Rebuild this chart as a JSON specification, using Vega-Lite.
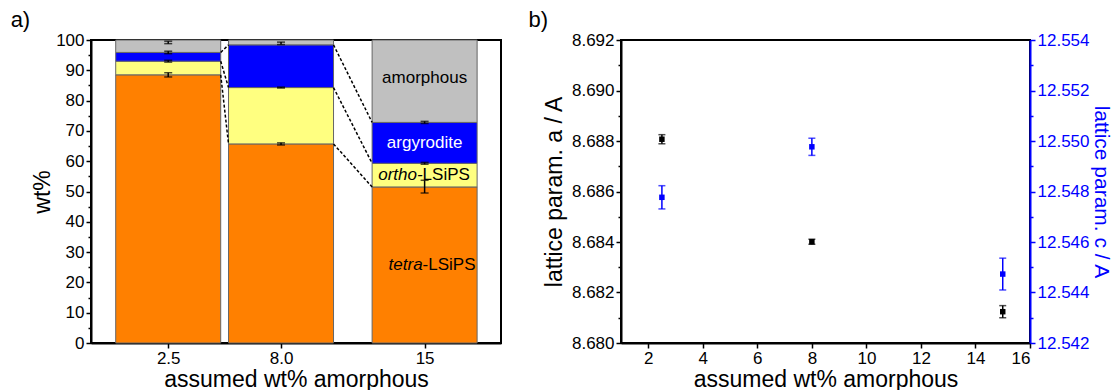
{
  "$schema": "https://vega.github.io/schema/vega-lite/v6.json",
  "background": "white",
  "padding": {"left": 9, "top": 8, "right": 0, "bottom": 0},
  "spacing": 25,
  "config": {
    "font": "Liberation Sans",
    "view": {"stroke": "black", "strokeWidth": 2},
    "axis": {
      "grid": false,
      "domainColor": "black",
      "domainWidth": 2,
      "tickColor": "black",
      "tickWidth": 1.5,
      "tickSize": 5,
      "labelFontSize": 17,
      "labelColor": "black",
      "labelPadding": 2,
      "titleFontSize": 23,
      "titleFontWeight": "normal",
      "titleColor": "black"
    },
    "title": {"fontSize": 22, "fontWeight": "normal", "anchor": "start", "frame": "bounds", "color": "black", "offset": -1}
  },
  "datasets": {
    "bars": [
      {"amorph": 2.5, "phase": "tetra-LSiPS", "wt": 88.5},
      {"amorph": 2.5, "phase": "ortho-LSiPS", "wt": 4.5},
      {"amorph": 2.5, "phase": "argyrodite", "wt": 2.9},
      {"amorph": 2.5, "phase": "amorphous", "wt": 4.1},
      {"amorph": 8.0, "phase": "tetra-LSiPS", "wt": 65.7},
      {"amorph": 8.0, "phase": "ortho-LSiPS", "wt": 18.6},
      {"amorph": 8.0, "phase": "argyrodite", "wt": 14.1},
      {"amorph": 8.0, "phase": "amorphous", "wt": 1.6},
      {"amorph": 15, "phase": "tetra-LSiPS", "wt": 51.5},
      {"amorph": 15, "phase": "ortho-LSiPS", "wt": 7.8},
      {"amorph": 15, "phase": "argyrodite", "wt": 13.5},
      {"amorph": 15, "phase": "amorphous", "wt": 27.2}
    ],
    "errs": [
      {"amorph": 2.5, "wt": 88.5, "err": 0.7},
      {"amorph": 2.5, "wt": 93.0, "err": 0.3},
      {"amorph": 2.5, "wt": 95.9, "err": 0.4},
      {"amorph": 2.5, "wt": 99.2, "err": 0.4},
      {"amorph": 8.0, "wt": 65.7, "err": 0.35},
      {"amorph": 8.0, "wt": 84.3, "err": 0.15},
      {"amorph": 8.0, "wt": 98.9, "err": 0.4},
      {"amorph": 15, "wt": 51.6, "err": 2.1},
      {"amorph": 15, "wt": 59.3, "err": 0.3},
      {"amorph": 15, "wt": 72.8, "err": 0.35}
    ],
    "links": [
      {"amorph": 2.5, "to": 8.0, "wt": 88.5, "wt2": 65.7},
      {"amorph": 2.5, "to": 8.0, "wt": 93.0, "wt2": 84.3},
      {"amorph": 2.5, "to": 8.0, "wt": 95.9, "wt2": 98.4},
      {"amorph": 8.0, "to": 15, "wt": 65.7, "wt2": 51.5},
      {"amorph": 8.0, "to": 15, "wt": 84.3, "wt2": 59.3},
      {"amorph": 8.0, "to": 15, "wt": 98.4, "wt2": 72.8}
    ],
    "labels": [
      {"amorph": 15, "wt": 87.5, "label": "amorphous"},
      {"amorph": 15, "wt": 66, "label": "argyrodite"},
      {"amorph": 15, "wt": 55.4, "label": "ortho-"},
      {"amorph": 15, "wt": 55.4, "label": "LSiPS"},
      {"amorph": 15, "wt": 25.7, "label": "tetra"},
      {"amorph": 15, "wt": 25.7, "label": "-LSiPS"}
    ],
    "lattice": [
      {"amorph": 2.5, "a": 8.68807, "a_err": 0.00018, "c": 12.54777, "c_err": 0.00046},
      {"amorph": 8.0, "a": 8.68401, "a_err": 0.0001, "c": 12.54977, "c_err": 0.00034},
      {"amorph": 15, "a": 8.68124, "a_err": 0.00024, "c": 12.54473, "c_err": 0.00063}
    ]
  },
  "hconcat": [
    {
      "title": {"text": "a)", "dx": -21},
      "width": 410,
      "height": 303,
      "encoding": {
        "x": {
          "field": "amorph", "type": "quantitative",
          "scale": {"domain": [-1.02, 18.48], "nice": false, "zero": false},
          "axis": {
            "values": [2.5, 8, 15],
            "labelExpr": "datum.value == 15 ? '15' : format(datum.value, '.1f')",
            "title": "assumed wt% amorphous",
            "titlePadding": 2
          }
        },
        "y": {
          "field": "wt", "type": "quantitative",
          "scale": {"domain": [0, 100], "nice": false},
          "axis": {
            "values": [0, 5, 10, 15, 20, 25, 30, 35, 40, 45, 50, 55, 60, 65, 70, 75, 80, 85, 90, 95, 100],
            "labelExpr": "datum.value % 10 == 0 ? datum.label : ''",
            "tickSize": {"condition": {"test": "datum.value % 10 != 0", "value": 3}, "value": 5},
            "title": "wt%",
            "titlePadding": 1
          }
        }
      },
      "layer": [
        {
          "data": {"name": "bars"},
          "mark": {"type": "bar", "width": 105, "stroke": "#666666", "strokeWidth": 1},
          "encoding": {
            "y": {
              "field": "wt", "type": "quantitative", "stack": "zero",
              "scale": {"domain": [0, 100], "nice": false},
              "axis": {
                "values": [0, 5, 10, 15, 20, 25, 30, 35, 40, 45, 50, 55, 60, 65, 70, 75, 80, 85, 90, 95, 100],
                "labelExpr": "datum.value % 10 == 0 ? datum.label : ''",
                "tickSize": {"condition": {"test": "datum.value % 10 != 0", "value": 3}, "value": 5},
                "title": "wt%",
                "titlePadding": 1
              }
            },
            "color": {
              "field": "phase", "type": "nominal",
              "sort": ["tetra-LSiPS", "ortho-LSiPS", "argyrodite", "amorphous"],
              "scale": {
                "domain": ["tetra-LSiPS", "ortho-LSiPS", "argyrodite", "amorphous"],
                "range": ["#ff8000", "#ffff80", "#0000ff", "#c0c0c0"]
              },
              "legend": null
            }
          }
        },
        {
          "data": {"name": "links"},
          "mark": {"type": "rule", "color": "black", "strokeWidth": 1.5, "strokeDash": [3, 2], "xOffset": 52.5, "x2Offset": -52.5},
          "encoding": {
            "x2": {"field": "to"},
            "y2": {"field": "wt2"}
          }
        },
        {
          "data": {"name": "errs"},
          "mark": {"type": "errorbar", "color": "black", "ticks": {"size": 8}, "thickness": 1.5},
          "encoding": {
            "yError": {"field": "err"}
          }
        },
        {
          "data": {"name": "labels"},
          "transform": [{"filter": "datum.label == 'amorphous'"}],
          "mark": {"type": "text", "fontSize": 17, "color": "black", "align": "center", "baseline": "middle"},
          "encoding": {"text": {"field": "label"}}
        },
        {
          "data": {"name": "labels"},
          "transform": [{"filter": "datum.label == 'argyrodite'"}],
          "mark": {"type": "text", "fontSize": 17, "color": "white", "align": "center", "baseline": "middle"},
          "encoding": {"text": {"field": "label"}}
        },
        {
          "data": {"name": "labels"},
          "transform": [{"filter": "datum.label == 'ortho-' || datum.label == 'tetra'"}],
          "mark": {"type": "text", "fontSize": 17, "fontStyle": "italic", "color": "black", "align": "right", "baseline": "middle"},
          "encoding": {
            "text": {"field": "label"},
            "xOffset": {"condition": {"test": "datum.label == 'tetra'", "value": -9}, "value": -2}
          }
        },
        {
          "data": {"name": "labels"},
          "transform": [{"filter": "datum.label == 'LSiPS' || datum.label == '-LSiPS'"}],
          "mark": {"type": "text", "fontSize": 17, "color": "black", "align": "left", "baseline": "middle"},
          "encoding": {
            "text": {"field": "label"},
            "xOffset": {"condition": {"test": "datum.label == '-LSiPS'", "value": -9}, "value": -2}
          }
        }
      ]
    },
    {
      "title": {"text": "b)", "dx": -15},
      "width": 409,
      "height": 303,
      "data": {"name": "lattice"},
      "layer": [
        {
          "encoding": {
            "x": {
              "field": "amorph", "type": "quantitative",
              "scale": {"domain": [1, 16], "nice": false, "zero": false},
              "axis": {
                "values": [2, 3, 4, 5, 6, 7, 8, 9, 10, 11, 12, 13, 14, 15, 16],
                "labelExpr": "datum.value % 2 == 0 ? datum.label : ''",
                "tickSize": {"condition": {"test": "datum.value % 2 != 0", "value": 3}, "value": 5},
                "title": "assumed wt% amorphous",
                "titlePadding": 2
              }
            },
            "y": {
              "field": "a", "type": "quantitative",
              "scale": {"domain": [8.68, 8.692], "nice": false, "zero": false},
              "axis": {
                "orient": "left",
                "values": [8.680, 8.681, 8.682, 8.683, 8.684, 8.685, 8.686, 8.687, 8.688, 8.689, 8.690, 8.691, 8.692],
                "format": ".3f",
                "labelExpr": "round(datum.value * 1000) % 2 == 0 ? datum.label : ''",
                "tickSize": {"condition": {"test": "round(datum.value * 1000) % 2 != 0", "value": 3}, "value": 5},
                "title": "lattice param. a / A",
                "titlePadding": 5
              }
            }
          },
          "layer": [
            {"mark": {"type": "errorbar", "color": "black", "ticks": {"size": 7}, "thickness": 1.5}, "encoding": {"yError": {"field": "a_err"}}},
            {"mark": {"type": "point", "shape": "square", "filled": true, "size": 30, "color": "black", "opacity": 1}}
          ]
        },
        {
          "encoding": {
            "x": {"field": "amorph", "type": "quantitative", "scale": {"domain": [1, 16], "nice": false, "zero": false}},
            "y": {
              "field": "c", "type": "quantitative",
              "scale": {"domain": [12.542, 12.554], "nice": false, "zero": false},
              "axis": {
                "orient": "right",
                "values": [12.542, 12.543, 12.544, 12.545, 12.546, 12.547, 12.548, 12.549, 12.550, 12.551, 12.552, 12.553, 12.554],
                "format": ".3f",
                "labelExpr": "round(datum.value * 1000) % 2 == 0 ? datum.label : ''",
                "tickSize": {"condition": {"test": "round(datum.value * 1000) % 2 != 0", "value": 3}, "value": 5},
                "title": "lattice param. c / A",
                "titleFontSize": 21,
                "titlePadding": 2,
                "domainColor": "#0000ff",
                "tickColor": "#0000ff",
                "labelColor": "#0000ff",
                "titleColor": "#0000ff"
              }
            }
          },
          "layer": [
            {"mark": {"type": "errorbar", "color": "#0000ff", "ticks": {"size": 7}, "thickness": 1.5}, "encoding": {"yError": {"field": "c_err"}}},
            {"mark": {"type": "point", "shape": "square", "filled": true, "size": 30, "color": "#0000ff", "opacity": 1}}
          ]
        }
      ],
      "resolve": {"scale": {"y": "independent"}}
    }
  ]
}
